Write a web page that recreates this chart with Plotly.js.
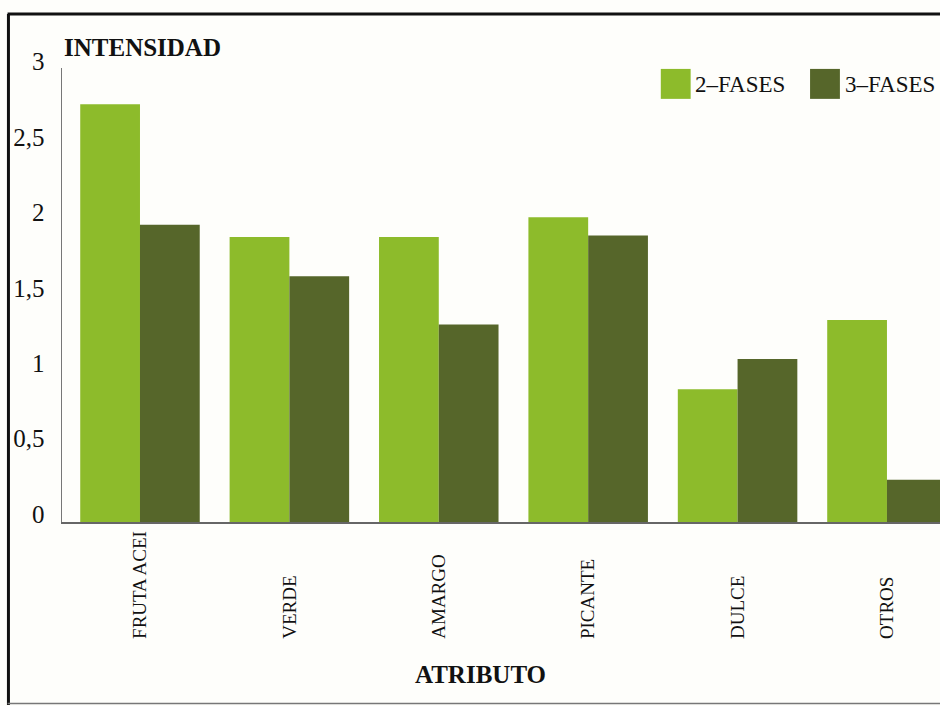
<!DOCTYPE html>
<html>
<head>
<meta charset="utf-8">
<script src="https://cdn.plot.ly/plotly-3.0.1.min.js"></script>
<style>
html,body{margin:0;padding:0;background:#fefefb;}
#chart{width:940px;height:706px;}
</style>
</head>
<body>
<div id="chart"></div>
<script>
const categories = ["FRUTA ACEI", "VERDE", "AMARGO", "PICANTE", "DULCE", "OTROS"];
const seriesNames = ["2–FASES", "3–FASES"];
const fases2 = [2.77, 1.89, 1.89, 2.02, 0.88, 1.34];
const fases3 = [1.97, 1.63, 1.31, 1.90, 1.08, 0.28];
const yTickVals = [0, 0.5, 1, 1.5, 2, 2.5, 3];
const yTickText = ["0", "0,5", "1", "1,5", "2", "2,5", "3"];
const colors = ["#8dbb2b", "#56662a"];

const serif = "Liberation Serif, Times New Roman, serif";

const traces = [
  {type: "bar", name: seriesNames[0], x: categories, y: fases2, marker: {color: colors[0]}, showlegend: false},
  {type: "bar", name: seriesNames[1], x: categories, y: fases3, marker: {color: colors[1]}, showlegend: false}
];

const annotations = categories.map(c => ({
  text: c, x: c, xref: "x", y: -0.262, yref: "paper",
  textangle: -90, xanchor: "center", yanchor: "bottom", showarrow: false,
  font: {family: serif, size: 19, color: "#111"}
}));
annotations.push({
  text: "<b>INTENSIDAD</b>", xref: "paper", yref: "paper", x: 0.0, y: 1.046,
  xanchor: "left", yanchor: "middle", showarrow: false,
  font: {family: serif, size: 25, color: "#111"}
});
annotations.push({
  text: "<b>ATRIBUTO</b>", xref: "paper", yref: "paper", x: 0.477, y: -0.337,
  xanchor: "center", yanchor: "middle", showarrow: false,
  font: {family: serif, size: 25, color: "#111"}
});
// legend entries
const legX = [0.682, 0.852];
const shapes = [];
seriesNames.forEach((n, i) => {
  shapes.push({type: "rect", xref: "paper", yref: "paper",
    x0: legX[i], x1: legX[i] + 0.034, y0: 0.932, y1: 0.998,
    fillcolor: colors[i], line: {width: 0}});
  annotations.push({text: n, xref: "paper", yref: "paper", x: legX[i] + 0.037, y: 0.963,
    xanchor: "left", yanchor: "middle", showarrow: false,
    font: {family: serif, size: 23, color: "#111"}});
});
// frame
shapes.push({type: "line", xref: "paper", yref: "paper", x0: -0.061, x1: -0.061, y0: 1.119, y1: -0.403, line: {color: "#111", width: 3}});
shapes.push({type: "line", xref: "paper", yref: "paper", x0: -0.062, x1: 1.01, y0: 1.119, y1: 1.119, line: {color: "#111", width: 3}});
shapes.push({type: "line", xref: "paper", yref: "paper", x0: -0.062, x1: 1.01, y0: -0.4, y1: -0.4, line: {color: "#777", width: 1.5}});

const layout = {
  width: 940, height: 706,
  margin: {l: 62, r: 0, t: 68, b: 184},
  paper_bgcolor: "#fefefb", plot_bgcolor: "#fefefb",
  barmode: "group", bargap: 0.2, bargroupgap: 0,
  xaxis: {
    type: "category", range: [-0.522, 5.355],
    showticklabels: false, ticks: "", showgrid: false,
    showline: true, linecolor: "#666", linewidth: 1.5, zeroline: false
  },
  yaxis: {
    range: [0, 3.01], tickvals: yTickVals, ticktext: yTickText,
    showgrid: false, zeroline: false, showline: true, linecolor: "#777", linewidth: 1.5,
    ticks: "", ticklabelstandoff: 11, ticklabelshift: -8,
    tickfont: {family: serif, size: 25, color: "#111"}
  },
  annotations: annotations,
  shapes: shapes,
  showlegend: false
};

Plotly.newPlot("chart", traces, layout, {displayModeBar: false, staticPlot: true});
</script>
</body>
</html>
